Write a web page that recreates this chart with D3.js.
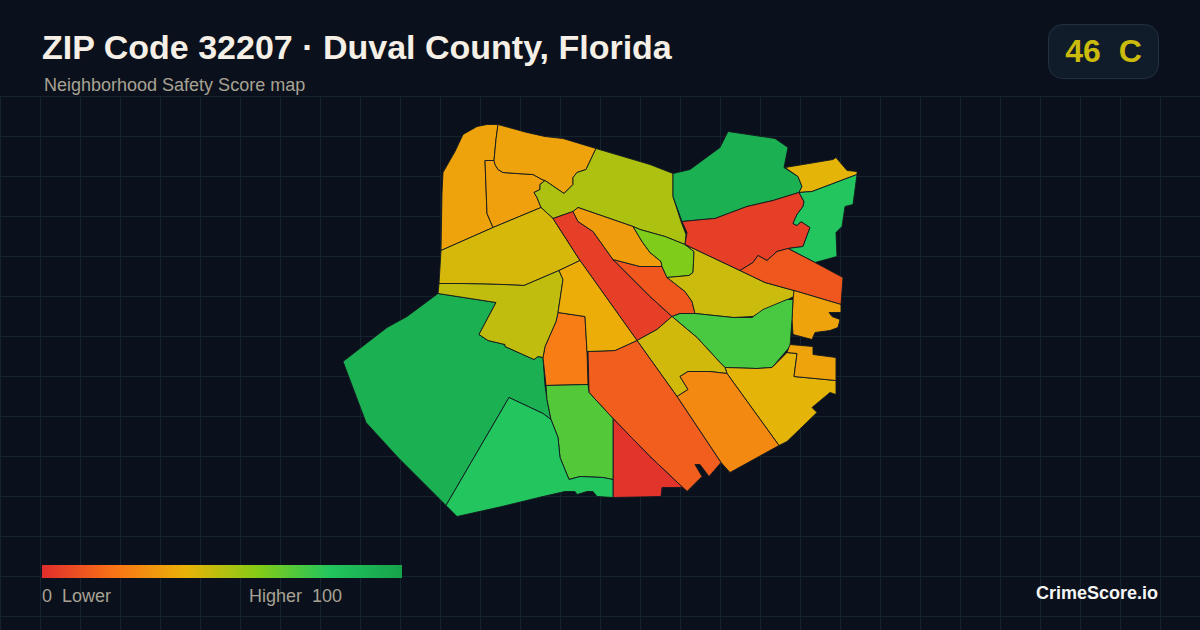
<!DOCTYPE html>
<head>
<title>ZIP Code 32207 Safety Score map</title>
<meta charset="utf-8">
<style>
body, html {
  padding: 0;
  margin: 0;
  border: 0;
  background: #0a111c;
}

svg {
  display: block;
  font-family: "Liberation Sans", Arial, sans-serif;
}

text {
  white-space: pre;
}

.grid-line {
  stroke: #15232f;
  stroke-width: 1;
}

.hood {
  stroke: #121a20;
  stroke-width: 0.9;
  stroke-linejoin: round;
}
</style>
<script src="https://d3js.org/d3.v7.min.js"></script>
</head>
<body>
<svg id="chart" width="1200" height="630"></svg>
<script>
var titleText = "ZIP Code 32207 · Duval County, Florida";
var subtitleText = "Neighborhood Safety Score map";
var badgeText = "46  C";
var overallScore = 46;
var legendLeft = "0  Lower";
var legendRight = "Higher  100";
var brandText = "CrimeScore.io";

var colorStops = [0, 20, 40, 60, 80, 100];
var colorRange = ["#e02d2d", "#f97316", "#eab308", "#84cc16", "#22c55e", "#16a34a"];

// neighborhood score, same order as hoodRings
var hoodScores = [
  92, 35, 34, 35, 52, 44, 5, 12, 33, 61, 46, 92, 5, 41, 80, 12, 35, 72, 41, 35,
  45, 27, 14, 2, 23, 70, 80, 48, 38
];

// boundaries in map units
var hoodRings = [
  // west, dark green
  [[438,294],[496,303],[479,335],[488,341],[505,345],[505,347],[534,360],[538,357],[543,358],[545,386],[547,400],[551,420],[543,414],[509,398],[446,506],[398,458],[366,423],[343,362],[387,328],[407,317]],
  // far northwest
  [[498,125],[487,125],[477,127],[463,135],[455,152],[443,173],[442,193],[441,251],[493,228],[487,214],[485,161],[494,161],[496,140]],
  // inner northwest
  [[485,161],[494,161],[495,165],[498,170],[503,173],[517,174],[533,175],[542,180],[545,181],[540,185],[540,190],[534,193],[537,198],[541,208],[493,228],[487,214]],
  // top
  [[498,125],[527,133],[545,137],[563,139],[596,149],[586,170],[577,173],[573,178],[573,185],[564,194],[545,181],[542,180],[533,175],[517,174],[503,173],[498,170],[495,165],[494,161],[496,140]],
  // north, yellow green
  [[596,149],[650,165],[673,174],[673,197],[681,222],[686,235],[685,245],[665,237],[640,230],[633,227],[578,208],[573,212],[553,219],[541,208],[537,198],[534,193],[540,190],[540,185],[545,181],[564,194],[573,185],[573,178],[577,173],[586,170]],
  // west band
  [[441,251],[493,228],[541,208],[553,219],[580,261],[559,271],[524,286],[503,285],[460,284],[439,284]],
  // red slash
  [[553,219],[573,212],[578,222],[593,232],[613,260],[650,297],[672,317],[657,330],[637,341],[580,261]],
  // beside the slash
  [[613,260],[640,267],[662,267],[667,278],[685,292],[692,302],[695,314],[680,314],[672,317],[650,297]],
  // central orange band
  [[578,208],[633,227],[642,242],[650,253],[661,262],[662,267],[640,267],[613,260],[593,232],[578,222],[573,212]],
  // lime
  [[633,227],[640,230],[665,237],[685,245],[694,252],[693,273],[689,276],[667,278],[662,267],[661,262],[650,253],[642,242]],
  // central right
  [[685,245],[740,271],[765,283],[794,291],[794,297],[773,307],[753,317],[733,318],[695,314],[692,302],[685,292],[667,278],[689,276],[693,273],[694,252]],
  // northeast, dark green
  [[728,132],[775,139],[788,148],[784,168],[798,177],[802,187],[799,193],[773,201],[747,207],[715,219],[703,220],[682,222],[673,197],[673,174],[690,170],[720,148]],
  // northeast red
  [[682,222],[703,220],[715,219],[747,207],[773,201],[799,193],[804,202],[803,207],[797,215],[793,224],[797,226],[801,222],[810,228],[803,247],[788,249],[777,252],[767,261],[758,256],[753,263],[740,271],[685,245],[687,233]],
  // northeast yellow
  [[785,168],[833,160],[836,158],[847,171],[857,172],[857,175],[812,192],[799,193],[802,187],[798,177]],
  // east green
  [[857,175],[853,205],[845,207],[842,227],[836,233],[837,257],[815,263],[788,249],[803,247],[810,228],[801,222],[797,226],[793,224],[797,215],[803,207],[804,202],[799,193],[812,192]],
  // east strip
  [[740,271],[753,263],[758,256],[767,261],[777,252],[788,249],[815,263],[843,278],[841,305],[794,291],[765,283]],
  // east orange
  [[794,291],[841,305],[841,313],[829,313],[832,317],[840,320],[838,328],[830,331],[815,333],[812,340],[793,335],[792,320],[793,300]],
  // south green
  [[672,317],[680,314],[695,314],[733,318],[752,318],[763,310],[787,300],[793,300],[792,320],[790,347],[772,368],[757,369],[725,368],[720,363],[697,338]],
  // southeast yellow
  [[725,368],[757,369],[772,368],[787,353],[797,354],[794,377],[836,381],[836,395],[830,393],[812,408],[817,413],[787,442],[779,446],[727,374]],
  // southeast orange
  [[787,353],[790,345],[813,347],[813,355],[836,358],[836,381],[794,377],[797,354]],
  // south olive
  [[672,317],[697,338],[720,363],[725,368],[727,374],[710,372],[688,372],[680,377],[688,390],[677,397],[637,341],[657,330]],
  // south orange
  [[677,397],[688,390],[680,377],[688,372],[710,372],[727,374],[779,446],[730,473],[721,463]],
  // south diagonal
  [[637,341],[677,397],[721,463],[709,477],[700,465],[695,465],[702,477],[687,492],[650,457],[613,419],[589,393],[588,352],[615,351]],
  // south red
  [[613,419],[650,457],[687,492],[682,488],[662,488],[661,497],[613,498]],
  // bright orange
  [[558,313],[585,317],[587,352],[588,385],[546,386],[543,358],[545,347],[556,322]],
  // south middle green
  [[546,386],[588,385],[589,393],[613,419],[613,480],[603,478],[580,477],[569,480],[560,458],[558,438],[551,420],[547,400]],
  // southwest green
  [[509,398],[543,414],[551,420],[558,438],[560,458],[569,480],[580,477],[603,478],[613,480],[613,498],[597,497],[593,492],[587,492],[577,495],[575,492],[565,492],[543,497],[502,507],[457,517],[446,506]],
  // west olive
  [[439,284],[460,284],[503,285],[524,286],[559,271],[563,280],[560,300],[558,313],[556,322],[545,347],[543,358],[538,357],[534,360],[505,347],[505,345],[488,341],[479,335],[496,303],[438,294]],
  // center yellow orange
  [[559,271],[580,261],[637,341],[615,351],[588,352],[587,352],[585,317],[558,313],[560,300],[563,280]]
];

var width = 1200, height = 630;
var svg = d3.select("#chart");
var color = d3.scaleLinear().domain(colorStops).range(colorRange);

// grid starts under the header
var grid = svg.append("g");
grid.selectAll("line.v")
  .data(d3.range(0, width, 40))
  .join("line")
  .attr("class", "grid-line")
  .attr("x1", d => d + 0.5).attr("x2", d => d + 0.5)
  .attr("y1", 96).attr("y2", height);
grid.selectAll("line.h")
  .data(d3.range(96, height, 40))
  .join("line")
  .attr("class", "grid-line")
  .attr("x1", 0).attr("x2", width)
  .attr("y1", d => d + 0.5).attr("y2", d => d + 0.5);

// map
var features = hoodRings.map(function(ring, i) {
  return {
    type: "Feature",
    properties: { score: hoodScores[i] },
    geometry: { type: "Polygon", coordinates: [ring.concat([ring[0]])] }
  };
});
var collection = { type: "FeatureCollection", features: features };
var projection = d3.geoIdentity().fitExtent([[343, 124], [857, 517]], collection);
var path = d3.geoPath().projection(projection);

svg.append("g")
  .selectAll("path")
  .data(features)
  .join("path")
  .attr("class", "hood")
  .attr("fill", d => color(d.properties.score))
  .attr("d", path);

// header
svg.append("text")
  .attr("x", 42).attr("y", 59)
  .attr("font-size", 34).attr("font-weight", 700)
  .attr("fill", "#f5efe6")
  .text(titleText);
svg.append("text")
  .attr("x", 44).attr("y", 91)
  .attr("font-size", 18)
  .attr("fill", "#a8a294")
  .text(subtitleText);

svg.append("rect")
  .attr("x", 1048.5).attr("y", 24.5)
  .attr("width", 110).attr("height", 54)
  .attr("rx", 14)
  .attr("fill", "#111c2a")
  .attr("stroke", "#22303f");
svg.append("text")
  .attr("x", 1103.5).attr("y", 62)
  .attr("text-anchor", "middle")
  .attr("font-size", 32).attr("font-weight", 700)
  .attr("fill", color(overallScore))
  .text(badgeText);

// legend
var gradient = svg.append("defs").append("linearGradient")
  .attr("id", "score-gradient");
gradient.selectAll("stop")
  .data(colorStops)
  .join("stop")
  .attr("offset", d => d + "%")
  .attr("stop-color", d => color(d));

svg.append("rect")
  .attr("x", 42).attr("y", 565)
  .attr("width", 360).attr("height", 13)
  .attr("fill", "url(#score-gradient)");
svg.append("text")
  .attr("x", 42).attr("y", 602)
  .attr("font-size", 18)
  .attr("fill", "#a8a294")
  .text(legendLeft);
svg.append("text")
  .attr("x", 342).attr("y", 602)
  .attr("text-anchor", "end")
  .attr("font-size", 18)
  .attr("fill", "#a8a294")
  .text(legendRight);

svg.append("text")
  .attr("x", 1158).attr("y", 599)
  .attr("text-anchor", "end")
  .attr("font-size", 18).attr("font-weight", 700)
  .attr("fill", "#f5f5f5")
  .text(brandText);
</script>
</body>
</html>
